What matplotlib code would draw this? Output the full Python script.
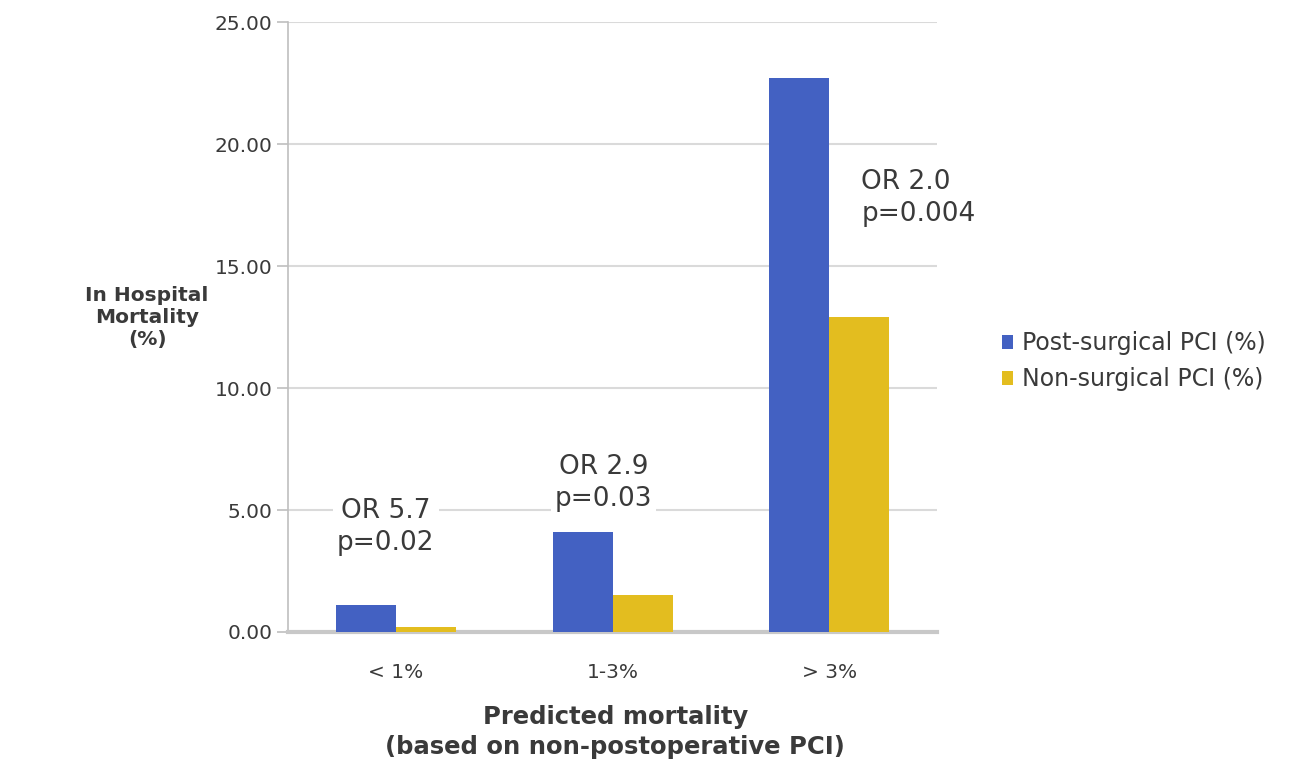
import matplotlib
matplotlib.use("Agg")
import matplotlib.pyplot as plt
import numpy as np

plt.rcParams['font.family'] = ['DejaVu Sans']

categories = ["< 1%", "1-3%", "> 3%"]
post_surgical = [1.1, 4.1, 22.7]
non_surgical = [0.2, 1.5, 12.9]
series_names = ["Post-surgical PCI (%)", "Non-surgical PCI (%)"]
annotations = ["OR 5.7\np=0.02", "OR 2.9\np=0.03", "OR 2.0\np=0.004"]
yticks = [0, 5, 10, 15, 20, 25]

blue = "#4361C2"
gold = "#E3BD1F"
grey = "#BFBFBF"
text_col = "#3A3A3A"

fig = plt.figure(figsize=(13.02, 7.64), dpi=100)
ax = fig.add_axes([0.221, 0.1728, 0.499, 0.7983])

x = np.arange(len(categories))
w = 0.277
ax.bar(x - w / 2, post_surgical, w, color=blue, label=series_names[0], zorder=3)
ax.bar(x + w / 2, non_surgical, w, color=gold, label=series_names[1], zorder=3)

ax.set_xlim(-0.5, 2.5)
ax.set_ylim(0, 25)
ax.set_yticks(yticks)
ax.set_yticklabels([f"{v:.2f}" for v in yticks], fontsize=14.5, color=text_col)
ax.set_xticks(x)
ax.set_xticklabels(categories, fontsize=14.5, color=text_col)
ax.tick_params(axis='x', length=0, pad=22)
ax.tick_params(axis='y', length=8, width=1.2, color=grey, pad=3)
ax.yaxis.grid(True, color="#DADADA", linewidth=1.5, zorder=0)
for s in ("top", "right"):
    ax.spines[s].set_visible(False)
ax.spines["left"].set_color(grey)
ax.spines["left"].set_linewidth(1.2)
ax.spines["bottom"].set_color("#C8C8C8")
ax.spines["bottom"].set_linewidth(3)

box = dict(facecolor="white", edgecolor="none", pad=3)
ax.text(-0.048, 4.32, annotations[0], ha="center", va="center", fontsize=19,
        color=text_col, linespacing=1.3, bbox=box, zorder=4)
ax.text(0.958, 6.09, annotations[1], ha="center", va="center", fontsize=19,
        color=text_col, linespacing=1.3, bbox=box, zorder=4)
ax.text(2.149, 17.8, annotations[2], ha="left", va="center", fontsize=19,
        color=text_col, linespacing=1.3, bbox=box, zorder=4)

fig.text(0.113, 0.585, "In Hospital\nMortality\n(%)", ha="center", va="center",
         fontsize=14.5, fontweight="bold", color=text_col, linespacing=1.2)
fig.text(0.4725, 0.042, "Predicted mortality\n(based on non-postoperative PCI)",
         ha="center", va="center", fontsize=17.5, fontweight="bold",
         color=text_col, linespacing=1.35)

leg = fig.legend(loc="center left", bbox_to_anchor=(0.753, 0.527), frameon=False,
                 fontsize=17, handlelength=0.5, handleheight=0.5,
                 handletextpad=0.35, labelspacing=0.5, labelcolor=text_col)

fig.savefig("out.png", dpi=100, facecolor="white")
